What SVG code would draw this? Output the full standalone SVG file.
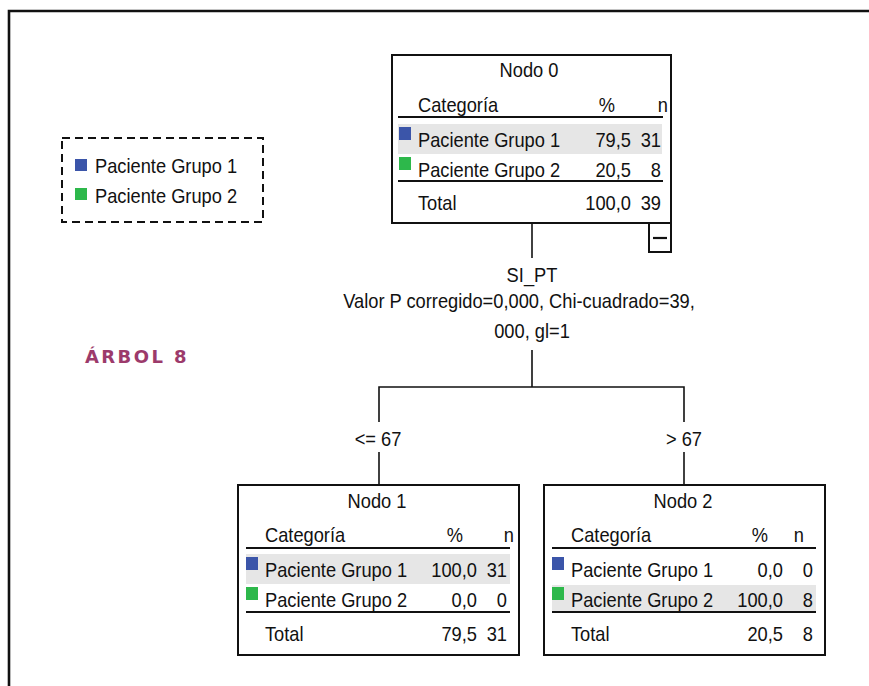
<svg xmlns="http://www.w3.org/2000/svg" width="869" height="686" viewBox="0 0 869 686">
  <style>
    text { font-family: "Liberation Sans", Arial, sans-serif; font-size: 21px; fill: #111;
           transform-box: fill-box; transform-origin: left bottom; transform: scaleX(0.87); }
    .mid { text-anchor: middle; transform-origin: center bottom; }
    .end { text-anchor: end; transform-origin: right bottom; }
    .box { fill: #fff; stroke: #111; stroke-width: 2; }
    .rule { stroke: #111; stroke-width: 2.2; }
    .band { fill: #e6e6e6; }
    .g1 { fill: #3b55a9; }
    .g2 { fill: #2db84b; }
    .conn { stroke: #111; stroke-width: 1.6; fill: none; }
    text.title { font-family: "DejaVu Sans", sans-serif; font-weight: bold; font-size: 18px; fill: #9c3a6b; letter-spacing: 2.4px; transform: none; }
  </style>

  <rect width="869" height="686" fill="#fff"/>
  <!-- page frame -->
  <path d="M9,686 V11 H869" fill="none" stroke="#111" stroke-width="2.6"/>

  <!-- legend -->
  <g id="legend">
    <rect x="62" y="138" width="201" height="84" fill="none" stroke="#111" stroke-width="2" stroke-dasharray="8,5"/>
    <rect class="g1" x="75" y="159" width="12" height="12"/>
    <text x="95" y="173">Paciente Grupo 1</text>
    <rect class="g2" x="75" y="188" width="12" height="12"/>
    <text x="95" y="203">Paciente Grupo 2</text>
  </g>

  <text class="title" x="85" y="363">ÁRBOL 8</text>

  <!-- connectors -->
  <g id="connectors">
    <line class="conn" x1="532" y1="223" x2="532" y2="258"/>
    <path class="conn" d="M532,350 V387 M379,422 V387 H684 V422"/>
    <line class="conn" x1="379" y1="452" x2="379" y2="485"/>
    <line class="conn" x1="684" y1="452" x2="684" y2="485"/>
    <text class="mid" x="532" y="282">SI_PT</text>
    <text class="mid" x="519" y="308">Valor P corregido=0,000, Chi-cuadrado=39,</text>
    <text class="mid" x="532" y="338">000, gl=1</text>
    <text class="mid" x="378" y="446">&lt;= 67</text>
    <text class="mid" x="684" y="446">&gt; 67</text>
  </g>

  <!-- Nodo 0 -->
  <g id="node0" transform="translate(392,55)">
    <rect class="box" x="0" y="0" width="279" height="168"/>
    <text class="mid" x="137" y="22">Nodo 0</text>
    <text x="26" y="57">Categoría</text>
    <text class="mid" x="215" y="57">%</text>
    <text class="end" x="276" y="57">n</text>
    <line class="rule" x1="6" y1="62" x2="271" y2="62"/>
    <rect class="band" x="6" y="69" width="264" height="30"/>
    <rect class="g1" x="7" y="72" width="12" height="13"/>
    <text x="26" y="92">Paciente Grupo 1</text>
    <text class="end" x="239" y="92">79,5</text>
    <text class="end" x="269" y="92">31</text>
    <rect class="g2" x="7" y="102" width="12" height="13"/>
    <text x="26" y="122">Paciente Grupo 2</text>
    <text class="end" x="239" y="122">20,5</text>
    <text class="end" x="269" y="122">8</text>
    <line class="rule" x1="6" y1="126" x2="271" y2="126"/>
    <text x="26" y="155">Total</text>
    <text class="end" x="239" y="155">100,0</text>
    <text class="end" x="269" y="155">39</text>
    <rect class="box" x="257" y="168" width="22" height="29"/>
    <line class="rule" x1="261" y1="183" x2="275" y2="183"/>
  </g>

  <!-- Nodo 1 -->
  <g id="node1" transform="translate(238,485)">
    <rect class="box" x="0" y="0" width="281" height="170"/>
    <text class="mid" x="139" y="23">Nodo 1</text>
    <text x="27" y="57">Categoría</text>
    <text class="mid" x="217" y="57">%</text>
    <text class="end" x="276" y="57">n</text>
    <line class="rule" x1="8" y1="63" x2="272" y2="63"/>
    <rect class="band" x="8" y="69" width="264" height="30"/>
    <rect class="g1" x="8" y="72" width="12" height="13"/>
    <text x="27" y="92">Paciente Grupo 1</text>
    <text class="end" x="239" y="92">100,0</text>
    <text class="end" x="269" y="92">31</text>
    <rect class="g2" x="8" y="102" width="12" height="13"/>
    <text x="27" y="122">Paciente Grupo 2</text>
    <text class="end" x="239" y="122">0,0</text>
    <text class="end" x="269" y="122">0</text>
    <line class="rule" x1="8" y1="127" x2="272" y2="127"/>
    <text x="27" y="156">Total</text>
    <text class="end" x="239" y="156">79,5</text>
    <text class="end" x="269" y="156">31</text>
  </g>

  <!-- Nodo 2 -->
  <g id="node2" transform="translate(544,485)">
    <rect class="box" x="0" y="0" width="281" height="170"/>
    <text class="mid" x="139" y="23">Nodo 2</text>
    <text x="27" y="57">Categoría</text>
    <text class="mid" x="216" y="57">%</text>
    <text class="end" x="260" y="57">n</text>
    <line class="rule" x1="8" y1="63" x2="272" y2="63"/>
    <rect class="g1" x="8" y="72" width="12" height="13"/>
    <text x="27" y="92">Paciente Grupo 1</text>
    <text class="end" x="239" y="92">0,0</text>
    <text class="end" x="269" y="92">0</text>
    <rect class="band" x="8" y="100" width="264" height="26"/>
    <rect class="g2" x="8" y="102" width="12" height="13"/>
    <text x="27" y="122">Paciente Grupo 2</text>
    <text class="end" x="239" y="122">100,0</text>
    <text class="end" x="269" y="122">8</text>
    <line class="rule" x1="8" y1="127" x2="272" y2="127"/>
    <text x="27" y="156">Total</text>
    <text class="end" x="239" y="156">20,5</text>
    <text class="end" x="269" y="156">8</text>
  </g>
</svg>
